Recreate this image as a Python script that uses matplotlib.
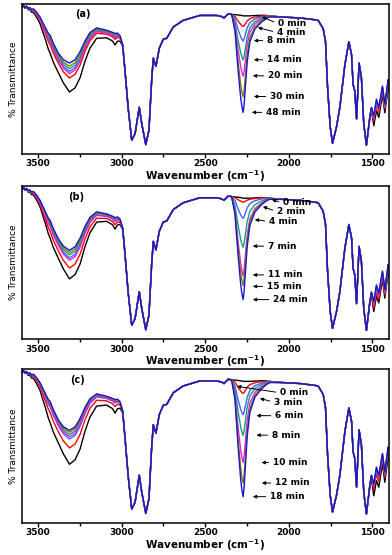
import numpy as np
import matplotlib
matplotlib.use('Agg')
import matplotlib.pyplot as plt
from matplotlib.ticker import MultipleLocator

# wavenumber grid (cm-1) and the final-time (top) spectrum
wn = [3596, 3588, 3580, 3570, 3560, 3550, 3540, 3529, 3510, 3489, 3459, 3439,
      3429, 3409, 3379, 3349, 3313, 3279, 3249, 3220, 3190, 3150, 3090, 3055,
      3040, 3025, 3010, 2994, 2980, 2961, 2940, 2920, 2895, 2880, 2856, 2837,
      2821, 2811, 2795, 2775, 2751, 2731, 2691, 2632, 2532, 2432, 2400, 2388,
      2375, 2362, 2342, 2322, 2303, 2288, 2280, 2273, 2268, 2263, 2249, 2233,
      2203, 2163, 2133, 2113, 2033, 1933, 1850, 1824, 1794, 1780, 1768, 1752,
      1738, 1714, 1694, 1664, 1640, 1624, 1615, 1605, 1594, 1579, 1565, 1551,
      1535, 1515, 1505, 1491, 1475, 1461, 1439, 1425, 1405, 1400]
base = [97.8, 99.0, 97.5, 98.5, 97.0, 97.6, 96.2, 96.7, 94.5, 91.2, 84.6, 80.3,
        79.2, 73.7, 67.1, 62.7, 60.5, 62.7, 68.2, 75.2, 80.9, 84.0, 82.4, 81.0,
        80.3, 80.5, 78.8, 72.6, 55.0, 30.0, 9.0, 13.4, 31.0, 20.0, 6.1, 15.6,
        48.5, 63.8, 58.3, 70.4, 76.5, 77.0, 84.6, 89.0, 92.3, 92.3, 91.5, 90.6,
        92.0, 93.4, 93.0, 92.8, 92.6, 92.4, 92.2, 92.0, 92.0, 92.0, 92.0, 92.0,
        92.2, 92.4, 92.3, 92.0, 91.2, 90.6, 89.5, 89.0, 83.5, 75.0, 45.0, 18.0,
        7.0, 18.0, 31.0, 59.4, 74.8, 66.0, 46.2, 42.0, 23.2, 60.5, 50.7, 20.0,
        5.7, 24.3, 31.0, 25.4, 36.4, 31.0, 45.2, 33.1, 49.5, 47.0]
# relative spread of the curves in the O-H / fingerprint regions
oh_profile = [0, 0, 0.02, 0.03, 0.05, 0.07, 0.09, 0.12, 0.17, 0.23, 0.4, 0.55,
              0.62, 0.66, 0.68, 0.8, 1.0, 0.97, 0.9, 0.7, 0.54, 0.36, 0.26, 0.3,
              0.4, 0.28, 0.19, 0.05, 0, 0, 0, 0, 0, 0, 0, 0,
              0, 0, 0, 0, 0, 0, 0, 0, 0, 0, 0, 0,
              0, 0, 0, 0, 0, 0, 0, 0, 0, 0, 0, 0,
              0, 0, 0, 0, 0, 0, 0, 0, 0, 0, 0, 0,
              0, 0, 0, 0, 0, 0, 0, 0, 0, 0, 0, 0,
              0, 0.05, 0.1, 0.35, 0.4, 0.35, 0.3, 0.3, 0.3, 0.3]
# shape of the N=C=O band at ~2270 cm-1 (fraction of its depth)
nco_profile = [0] * 50 + [0, 0.17, 0.58, 0.85, 0.95, 1.0, 0.93, 0.82, 0.48, 0.27,
                          0.14, 0.07, 0.03, 0.01] + [0] * 30

colors = ['black', '#ff0000', '#3f63ff', '#10a080', '#e020e0', '#808000', '#1515d5']

# panel data: label times, O-H band shift, N=C=O band depth
times_a = ['0 min', '4 min', '8 min', '14 min', '20 min', '30 min', '48 min']
oh_a = [19.3, 10, 5.5, 3.7, 7, 2, 0]
nco_a = [0, 7.1, 16.8, 29.3, 40.2, 54, 64.4]

times_b = ['0 min', '2 min', '4 min', '7 min', '11 min', '15 min', '24 min']
oh_b = [21.2, 14.1, 7.5, 5.5, 9, 4, 2.5]
nco_b = [0, 2.7, 13.2, 32, 50.5, 57, 66.2]

times_c = ['0 min', '3 min', '6 min', '8 min', '10 min', '12 min', '18 min']
oh_c = [22.4, 11.8, 6, 3, 4.5, 1.5, 0.3]
nco_c = [0, 7.9, 21.7, 35, 52.8, 66.1, 75]

# label placement (text x, text y, arrow x, arrow y) in data units
lab_a = [(2065, 86.8, 2161, 91.4), (2071, 80.9, 2185, 84.2), (2131, 75.5, 2209, 75.5),
         (2131, 62.7, 2209, 62.7), (2125, 52.0, 2215, 52.0), (2113, 38.2, 2209, 38.2),
         (2137, 27.6, 2221, 27.6)]
lab_b = [(2035, 89.0, 2101, 91.0), (2071, 83.2, 2155, 86.5), (2119, 76.8, 2203, 78.0),
         (2125, 60.7, 2215, 60.7), (2125, 41.9, 2215, 41.9), (2131, 34.4, 2215, 34.4),
         (2095, 25.8, 2215, 25.8)]
lab_c = [(2053, 84.6, 2310, 88.8), (2089, 78.5, 2173, 80.9), (2083, 69.7, 2193, 69.7),
         (2103, 57.0, 2193, 57.0), (2097, 39.2, 2163, 39.2), (2083, 25.9, 2161, 25.9),
         (2113, 17.0, 2215, 17.0)]

panels = [('(a)', times_a, oh_a, nco_a, lab_a, [0.0561, 0.7230, 0.9362, 0.2700], 0.144),
          ('(b)', times_b, oh_b, nco_b, lab_b, [0.0561, 0.3890, 0.9362, 0.2760], 0.125),
          ('(c)', times_c, oh_c, nco_c, lab_c, [0.0561, 0.0580, 0.9362, 0.2770], 0.131)]

x = np.array(wn)
b0 = np.array(base)
ohp = np.array(oh_profile)
ncp = np.array(nco_profile)

fig = plt.figure(figsize=(3.92, 5.55), dpi=100)
for name, times, oh, nco, labs, rect, tx in panels:
    ax = fig.add_axes(rect)
    for i in range(len(times)):
        y = b0 - oh[i] * ohp - nco[i] * ncp
        ax.plot(x, y, color=colors[i], lw=1.0)
    for t, (lx, ly, axx, ayy) in zip(times, labs):
        ax.annotate(t, xy=(axx, ayy), xytext=(lx, ly), ha='left', va='center',
                    fontsize=6.5, fontweight='bold',
                    arrowprops=dict(arrowstyle='-|>', color='black', lw=0.7,
                                    mutation_scale=5, shrinkA=1, shrinkB=0,
                                    relpos=(0, 0.5)))
    ax.text(tx, 0.93, name, transform=ax.transAxes, fontsize=7, fontweight='bold',
            ha='left', va='center')
    ax.set_xlim(3597, 1400)
    ax.set_ylim(0, 100)
    ax.set_yticks([])
    ax.xaxis.set_major_locator(MultipleLocator(500))
    ax.xaxis.set_minor_locator(MultipleLocator(250))
    ax.tick_params(axis='x', which='major', length=3, width=1, labelsize=6.5, pad=1)
    ax.tick_params(axis='x', which='minor', length=2, width=1)
    for lbl in ax.get_xticklabels():
        lbl.set_fontweight('bold')
    for s in ax.spines.values():
        s.set_linewidth(1.1)
    ax.set_xlabel('Wavenumber (cm$^{\\mathbf{-1}}$)', fontsize=7.5, fontweight='bold',
                  labelpad=0)
    ax.set_ylabel('% Transmittance', fontsize=6.5,
                  family=['Liberation Sans Narrow', 'DejaVu Sans'], labelpad=3)

fig.savefig('out.png', dpi=100)
